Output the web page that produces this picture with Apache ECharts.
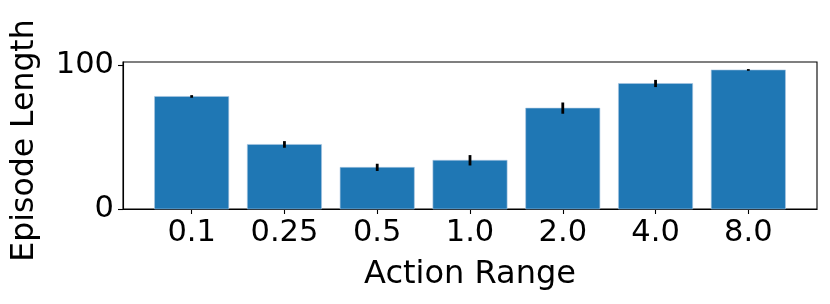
<!DOCTYPE html>
<html>
<head>
<meta charset="utf-8">
<script src="https://cdn.jsdelivr.net/npm/echarts@6/dist/echarts.min.js"></script>
<style>
html,body{margin:0;padding:0;background:#fff;}
#chart{width:830px;height:304px;}
</style>
</head>
<body>
<div id="chart"></div>
<script>
const categories = ['0.1', '0.25', '0.5', '1.0', '2.0', '4.0', '8.0'];
const lengths = [78.1, 44.8, 28.9, 33.8, 70.0, 87.1, 96.5];
const errors = [0.9, 2.3, 2.5, 3.6, 3.9, 2.5, 0.6];
const yTicks = [0, 100];

const FONT = 'DejaVu Sans';
const barData = lengths.map((v, i) => [i, v]);
const errData = lengths.map((v, i) => [i, v - errors[i], v + errors[i]]);
const xTicks = categories.map((c, i) => i);

const chart = echarts.init(document.getElementById('chart'), null, {renderer: 'canvas'});
chart.setOption({
  animation: false,
  backgroundColor: '#ffffff',
  grid: {left: 123, right: 13, top: 62, bottom: 95, show: true, borderColor: '#000', borderWidth: 1.1, backgroundColor: 'transparent'},
  xAxis: {
    type: 'value', min: -0.74, max: 6.74,
    splitLine: {show: false},
    axisLine: {show: true, onZero: false, lineStyle: {color: '#000', width: 1.1}},
    axisTick: {show: true, length: 5, customValues: xTicks, lineStyle: {color: '#000', width: 1.1}},
    axisLabel: {show: true, customValues: xTicks, formatter: v => categories[Math.round(v)], fontFamily: FONT, fontSize: 30.5, color: '#000', margin: 9},
    name: 'Action Range', nameLocation: 'middle', nameGap: 50,
    nameTextStyle: {fontFamily: FONT, fontSize: 32, color: '#000'}
  },
  yAxis: {
    type: 'value', min: 0, max: 102,
    splitLine: {show: false},
    axisLine: {show: true, onZero: false, lineStyle: {color: '#000', width: 1.1}},
    axisTick: {show: true, length: 5, customValues: yTicks, lineStyle: {color: '#000', width: 1.1}},
    axisLabel: {show: true, customValues: yTicks, fontFamily: FONT, fontSize: 30.5, color: '#000', margin: 9},
    name: 'Episode Length', nameLocation: 'middle', nameGap: 82,
    nameTextStyle: {fontFamily: FONT, fontSize: 31.5, color: '#000', padding: [0, 10, 0, 0]}
  },
  series: [
    {
      type: 'custom',
      data: barData,
      renderItem: function (params, api) {
        const x = api.value(0), y = api.value(1);
        const p0 = api.coord([x - 0.4, y]);
        const p1 = api.coord([x + 0.4, 0]);
        return {type: 'rect', shape: {x: p0[0], y: p0[1], width: p1[0] - p0[0], height: p1[1] - p0[1]},
          style: {fill: '#1f77b4', stroke: '#a9c6e0', lineWidth: 0.6}};
      }
    },
    {
      type: 'custom',
      data: errData,
      z: 5,
      renderItem: function (params, api) {
        const x = api.value(0);
        const a = api.coord([x, api.value(1)]);
        const b = api.coord([x, api.value(2)]);
        return {type: 'line', shape: {x1: a[0], y1: a[1], x2: b[0], y2: b[1]},
          style: {stroke: '#000', lineWidth: 2.8}};
      }
    }
  ]
});
</script>
</body>
</html>
